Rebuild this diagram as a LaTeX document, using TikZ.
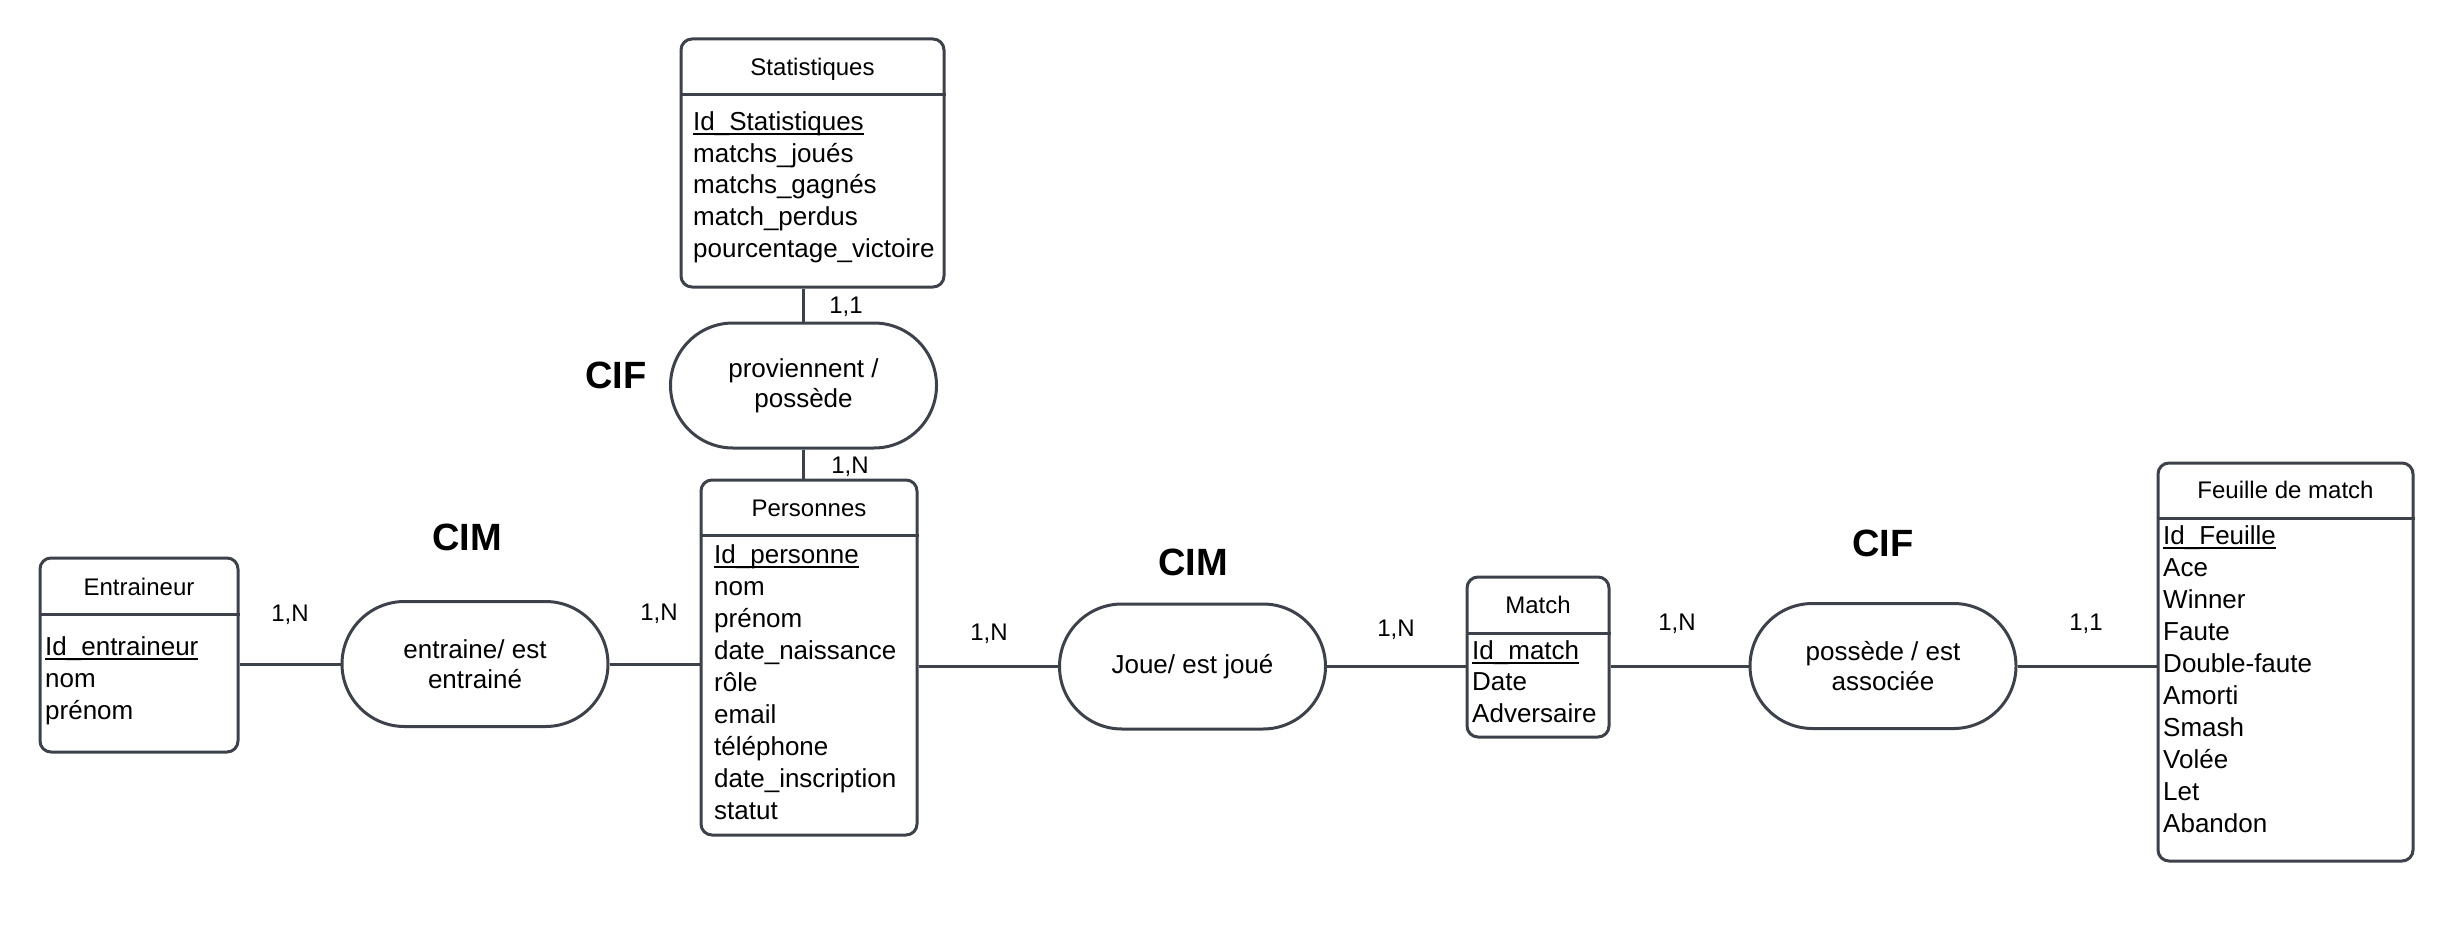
\documentclass[tikz,border=0pt]{standalone}
\usepackage{fontspec}
\setmainfont{Liberation Sans}
\usetikzlibrary{shapes.misc}
\definecolor{lc}{HTML}{3D424A}
\newcommand\idul[1]{\setbox0=\hbox{#1}\rlap{\vrule width\wd0 height -2.5pt depth 4.5pt}\box0}
\tikzset{
  ln/.style={line width=3pt, draw=lc},
  ent/.style={draw=lc, line width=3pt, rounded corners=11pt, rectangle, inner sep=0pt},
  rel/.style={draw=lc, line width=3pt, rounded rectangle, minimum width=266pt, minimum height=125pt, align=center, font=\fontsize{26}{30}\selectfont, inner sep=0pt},
  ttl/.style={font=\fontsize{24}{28}\selectfont, text height=17pt, text depth=0pt, inner sep=0pt},
  attr/.style={font=\fontsize{26}{32}\selectfont, anchor=base west, inner sep=0pt},
  card/.style={font=\fontsize{24}{28}\selectfont, text height=17pt, text depth=0pt, inner sep=0pt},
  kind/.style={font=\bfseries\fontsize{38}{44}\selectfont, text height=27pt, text depth=0pt, inner sep=0pt},
}
\begin{document}
\begin{tikzpicture}[x=1pt,y=-1pt]
\fill[white] (0,0) rectangle (2454,952);
\useasboundingbox (0,0) rectangle (2454,952);

% Entities
\node[ent, minimum width=263pt, minimum height=248pt] (stat) at (812.5,163) {};
\draw[ln] (stat.west |- 0,95) -- (stat.east |- 0,95);
\node[ttl] (statT) at (812.5,67) {Statistiques};
\foreach \t [count=\i from 0] in {\idul{Id\_Statistiques},matchs\_joués,matchs\_gagnés,match\_perdus,pourcentage\_victoire}
  \node[attr] (statA\i) at (693,{131+31.5*\i}) {\t};

\node[ent, minimum width=216pt, minimum height=355pt] (pers) at (809,657.5) {};
\draw[ln] (pers.west |- 0,535) -- (pers.east |- 0,535);
\node[ttl] (persT) at (809,508) {Personnes};
\foreach \t [count=\i from 0] in {\idul{Id\_personne},nom,prénom,date\_naissance,rôle,email,téléphone,date\_inscription,statut}
  \node[attr] (persA\i) at (714,{563+32*\i}) {\t};

\node[ent, minimum width=198pt, minimum height=194pt] (entr) at (139,655) {};
\draw[ln] (entr.west |- 0,614) -- (entr.east |- 0,614);
\node[ttl] (entrT) at (139,587) {Entraineur};
\foreach \t [count=\i from 0] in {\idul{Id\_entraineur},nom,prénom}
  \node[attr] (entrA\i) at (45,{655+32*\i}) {\t};

\node[ent, minimum width=142pt, minimum height=160pt] (match) at (1538,657) {};
\draw[ln] (match.west |- 0,633) -- (match.east |- 0,633);
\node[ttl] (matchT) at (1538,605) {Match};
\foreach \t [count=\i from 0] in {\idul{Id\_match},Date,Adversaire}
  \node[attr] (matchA\i) at (1472,{659+31.5*\i}) {\t};

\node[ent, minimum width=255pt, minimum height=398pt] (feuil) at (2285.5,662) {};
\draw[ln] (feuil.west |- 0,518) -- (feuil.east |- 0,518);
\node[ttl] (feuilT) at (2285.5,490) {Feuille de match};
\foreach \t [count=\i from 0] in {\idul{Id\_Feuille},Ace,Winner,Faute,Double-faute,Amorti,Smash,Volée,Let,Abandon}
  \node[attr] (feuilA\i) at (2163,{544+32*\i}) {\t};

% Relationships
\node[rel] (prov) at (803.5,385.5) {proviennent /\\possède};
\node[rel] (entrel) at (475,664) {entraine/ est\\entrainé};
\node[rel] (joue) at (1192.5,666.5) {Joue/ est joué};
\node[rel] (poss) at (1883,666) {possède / est\\associée};

% Connectors
\draw[ln] (prov.north) -- (prov.north |- stat.south);
\draw[ln] (prov.south) -- (prov.south |- pers.north);
\draw[ln] (entrel.west) -- (entrel.west -| entr.east);
\draw[ln] (entrel.east) -- (entrel.east -| pers.west);
\draw[ln] (joue.west) -- (joue.west -| pers.east);
\draw[ln] (joue.east) -- (joue.east -| match.west);
\draw[ln] (poss.west) -- (poss.west -| match.east);
\draw[ln] (poss.east) -- (poss.east -| feuil.west);

% Cardinalities
\node[card] (c1) at (846,305) {1,1};
\node[card] (c2) at (850,465) {1,N};
\node[card] (c3) at (290,613) {1,N};
\node[card] (c4) at (659,612) {1,N};
\node[card] (c5) at (989,632) {1,N};
\node[card] (c6) at (1396,628) {1,N};
\node[card] (c7) at (1677,622) {1,N};
\node[card] (c8) at (2086,622) {1,1};

% Kinds
\node[kind] (k1) at (616,375) {CIF};
\node[kind] (k2) at (467,537) {CIM};
\node[kind] (k3) at (1193,562) {CIM};
\node[kind] (k4) at (1883,543) {CIF};
\end{tikzpicture}
\end{document}
